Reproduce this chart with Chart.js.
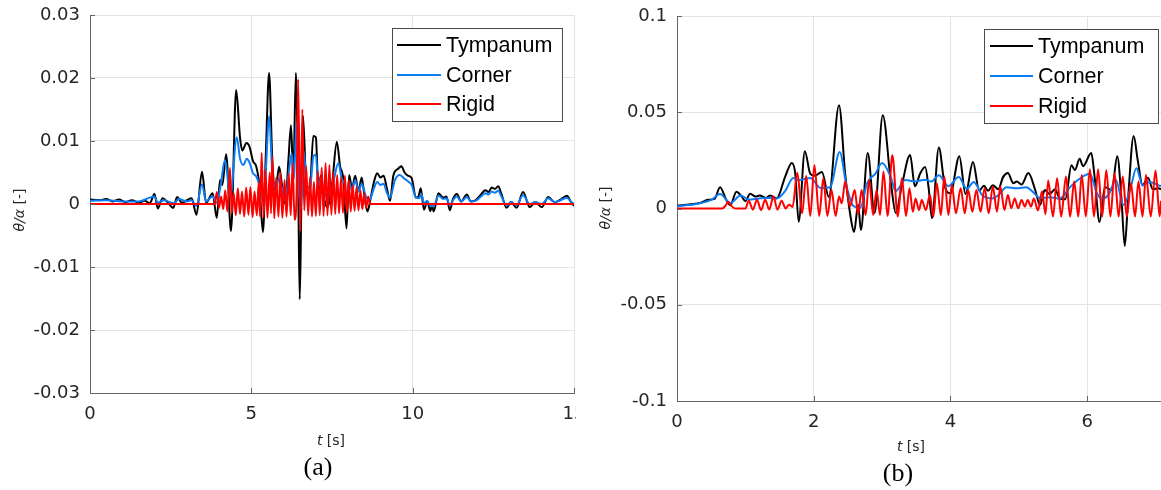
<!DOCTYPE html>
<html>
<head>
<meta charset="utf-8">
<script src="https://cdn.jsdelivr.net/npm/chart.js@4.4.1/dist/chart.umd.min.js"></script>
<style>
  html, body { margin: 0; padding: 0; background: #fff; }
  #wrap { position: relative; width: 1161px; height: 490px; overflow: hidden; }
  canvas { position: absolute; top: 0; }
</style>
</head>
<body>
<div id="wrap">
  <canvas id="chartA" width="576" height="490" style="left:0px"></canvas>
  <canvas id="chartB" width="581" height="490" style="left:580px"></canvas>
</div>
<script>
// ---- panel (a) data ----
const aTympT = [0,0.3,0.5,0.7,0.9,1.1,1.3,1.5,1.7,1.85,2.0,2.1,2.25,2.4,2.58,2.7,2.85,3.0,3.15,3.3,3.47,3.6,3.8,3.93,4.03,4.1,4.22,4.37,4.53,4.65,4.72,4.85,4.95,5.05,5.15,5.25,5.36,5.45,5.55,5.65,5.75,5.86,5.95,6.05,6.15,6.23,6.3,6.38,6.45,6.5,6.55,6.6,6.7,6.8,6.92,7.0,7.08,7.15,7.25,7.35,7.5,7.65,7.75,7.85,7.95,8.03,8.12,8.22,8.32,8.42,8.5,8.6,8.7,8.8,8.9,9.0,9.1,9.2,9.3,9.4,9.55,9.65,9.75,9.85,9.97,10.1,10.18,10.25,10.35,10.45,10.55,10.6,10.65,10.8,10.95,11.05,11.15,11.25,11.37,11.5,11.68,11.8,11.95,12.1,12.25,12.35,12.45,12.55,12.65,12.75,12.91,13.05,13.22,13.42,13.63,13.8,14.0,14.2,14.4,14.55,14.78,14.9,15.0];
const aTympY = [0.0007,0.0006,0.0008,0.0004,0.0007,0.0003,0.0006,0.0002,0.0005,0.0001,0.0016,-0.0007,0.0009,0.0003,-0.0006,0.0011,0.0002,0.0006,0.0009,-0.0017,0.0051,0.0002,0.0017,-0.0022,0.0038,0.0030,0.0079,-0.0043,0.0181,0.0105,0.0085,0.0097,0.0090,0.0068,0.0060,0.0030,-0.0045,0.0080,0.0208,0.0070,0.0020,0.0059,0.0030,0.0000,0.0070,0.0125,0.0040,0.0208,0.0040,-0.0151,0.0000,0.0140,0.0030,0.0010,0.0108,0.0106,0.0020,0.0045,0.0010,-0.0005,0.0030,0.0099,0.0060,0.0040,-0.0039,0.0046,0.0025,0.0045,0.0020,0.0042,0.0015,-0.0012,0.0010,0.0035,0.0049,0.0042,0.0045,0.0025,0.0005,0.0045,0.0056,0.0060,0.0050,0.0045,0.0041,0.0010,0.0012,0.0025,-0.0009,0.0004,-0.0011,-0.0002,-0.0012,0.0017,0.0010,0.0012,-0.0010,0.0008,0.0016,0.0004,0.0015,0.0004,0.0006,0.0014,0.0022,0.0019,0.0026,0.0024,0.0028,0.0016,-0.0006,0.0003,-0.0006,0.0019,-0.0005,0.0003,-0.0005,0.0011,0.0003,0.0006,0.0013,0.0004,-0.0003];

const aCornerT = [0,0.5,1.0,1.5,2.0,2.1,2.3,2.6,2.75,3.0,3.15,3.3,3.47,3.6,3.8,3.93,4.05,4.18,4.35,4.55,4.65,4.75,4.86,4.95,5.05,5.15,5.25,5.36,5.45,5.55,5.65,5.75,5.86,5.95,6.05,6.15,6.25,6.32,6.4,6.47,6.52,6.58,6.62,6.72,6.82,6.92,7.0,7.08,7.15,7.25,7.35,7.5,7.7,7.8,7.9,7.95,8.03,8.12,8.22,8.32,8.42,8.55,8.65,8.8,8.9,9.0,9.1,9.2,9.3,9.45,9.6,9.75,9.88,9.97,10.1,10.2,10.27,10.35,10.45,10.55,10.65,10.8,10.95,11.05,11.15,11.25,11.37,11.5,11.68,11.8,11.95,12.1,12.25,12.35,12.45,12.55,12.65,12.75,12.91,13.05,13.22,13.42,13.63,13.8,14.0,14.2,14.4,14.55,14.78,14.9,15.0];
const aCornerY = [0.0005,0.0006,0.0004,0.0004,0.0012,0.0002,0.0006,0.0001,0.0008,0.0004,0.0006,-0.0003,0.0031,0.0004,0.0012,0.0002,0.0030,0.0070,0.0012,0.0106,0.0072,0.0062,0.0072,0.0065,0.0049,0.0044,0.0030,0.0005,0.0055,0.0140,0.0050,0.0025,0.0040,0.0025,0.0005,0.0045,0.0080,0.0040,0.0130,0.0030,-0.0010,0.0030,0.0085,0.0030,0.0025,0.0075,0.0078,0.0027,0.0040,0.0020,0.0010,0.0025,0.0065,0.0040,0.0030,0.0005,0.0035,0.0022,0.0038,0.0020,0.0032,0.0012,0.0005,0.0025,0.0035,0.0030,0.0032,0.0018,0.0010,0.0038,0.0046,0.0040,0.0035,0.0030,0.0010,0.0009,0.0016,0.0001,0.0005,-0.0003,-0.0003,0.0013,0.0008,0.0009,-0.0002,0.0006,0.0012,0.0004,0.0011,0.0004,0.0005,0.0011,0.0017,0.0015,0.0020,0.0018,0.0021,0.0012,-0.0002,0.0003,-0.0002,0.0014,0.0000,0.0003,0.0000,0.0009,0.0003,0.0005,0.0010,0.0004,0.0000];

const aRigidT = [0,3.87,3.93,4.00,4.06,4.13,4.19,4.26,4.34,4.39,4.45,4.52,4.58,4.65,4.71,4.78,4.84,4.91,4.97,5.04,5.10,5.17,5.23,5.27,5.32,5.38,5.44,5.50,5.57,5.61,5.65,5.71,5.77,5.84,5.90,5.96,6.03,6.09,6.16,6.22,6.28,6.34,6.40,6.45,6.52,6.58,6.64,6.70,6.76,6.82,6.88,6.94,7.00,7.06,7.12,7.18,7.24,7.30,7.36,7.42,7.48,7.54,7.60,7.66,7.72,7.78,7.84,7.90,7.96,8.02,8.08,8.14,8.20,8.26,8.32,8.38,8.44,8.50,8.56,8.62,8.68,15];
const aRigidY = [0,0,0.0019,-0.0006,0.0012,-0.0008,0.0022,-0.0012,0.0057,-0.0015,0.0018,-0.0018,0.0025,-0.0016,0.0020,-0.0020,0.0026,-0.0017,0.0027,-0.0021,0.0020,-0.0018,0.0035,-0.0020,0.0081,-0.0021,0.0054,-0.0022,0.0050,-0.0015,0.0075,-0.0023,0.0042,-0.0020,0.0050,-0.0022,0.0038,-0.0020,0.0048,-0.0018,0.0065,-0.0025,0.0010,0.0198,-0.0043,0.0150,-0.0010,0.0060,-0.0018,0.0043,-0.0020,0.0035,-0.0019,0.0052,-0.0018,0.0058,-0.0019,0.0065,-0.0018,0.0062,-0.0017,0.0050,-0.0016,0.0046,-0.0015,0.0042,-0.0014,0.0045,-0.0013,0.0038,-0.0012,0.0030,-0.0011,0.0027,-0.0010,0.0022,-0.0008,0.0017,-0.0006,0.0012,0,0];

const aXTicks = [0, 5, 10, 15];
const aXLabels = ['0', '5', '10', '15'];
const aYTicks = [-0.03, -0.02, -0.01, 0, 0.01, 0.02, 0.03];
const aYLabels = ['-0.03', '-0.02', '-0.01', '0', '0.01', '0.02', '0.03'];

// ---- panel (b) data ----
const bTympT = [0,0.2,0.35,0.45,0.55,0.63,0.72,0.78,0.87,0.95,1.0,1.07,1.15,1.21,1.3,1.36,1.46,1.58,1.68,1.73,1.78,1.87,1.95,2.02,2.12,2.22,2.37,2.46,2.54,2.59,2.65,2.69,2.79,2.89,3.01,3.13,3.2,3.29,3.41,3.48,3.56,3.63,3.68,3.73,3.83,3.92,4.0,4.13,4.22,4.33,4.42,4.49,4.55,4.62,4.7,4.77,4.84,4.92,4.97,5.04,5.14,5.24,5.31,5.38,5.45,5.53,5.6,5.68,5.77,5.82,5.89,5.94,6.06,6.11,6.18,6.26,6.36,6.44,6.5,6.55,6.6,6.68,6.74,6.81,6.89,6.96,7.04,7.08];
const bTympY = [0.0015,0.0022,0.0030,0.0045,0.0050,0.0110,0.0045,0.0018,0.0087,0.0060,0.0038,0.0077,0.0062,0.0068,0.0055,0.0068,0.0053,0.0163,0.0237,0.0180,-0.0069,0.0297,0.0180,0.0170,0.0190,0.0060,0.0537,0.0180,-0.0045,-0.0122,0.0020,-0.0112,0.0288,-0.0023,0.0484,0.0131,-0.0023,0.0121,0.0278,0.0116,0.0184,0.0215,0.0110,-0.0050,0.0317,0.0111,0.0079,0.0272,0.0075,0.0241,0.0092,0.0118,0.0092,0.0121,0.0100,0.0163,0.0184,0.0131,0.0140,0.0125,0.0184,0.0096,0.0018,0.0096,0.0075,0.0100,0.0052,0.0048,0.0225,0.0200,0.0258,0.0220,0.0288,0.0160,-0.0070,0.0110,0.0096,0.0272,0.0060,-0.0195,0.0060,0.0376,0.0250,0.0121,0.0160,0.0100,0.0105,0.0100];

const bCornerT = [0,0.3,0.5,0.63,0.78,0.93,1.05,1.2,1.35,1.46,1.58,1.7,1.78,1.95,2.1,2.24,2.38,2.48,2.58,2.68,2.78,2.9,3.0,3.13,3.2,3.34,3.48,3.63,3.72,3.83,3.97,4.12,4.24,4.34,4.47,4.61,4.71,4.82,4.97,5.11,5.21,5.31,5.45,5.6,5.75,5.9,6.04,6.14,6.21,6.31,6.42,6.53,6.63,6.72,6.81,6.91,7.08];
const bCornerY = [0.0012,0.0025,0.0045,0.0075,0.0028,0.0067,0.0047,0.0052,0.0055,0.0052,0.0090,0.0158,0.0148,0.0158,0.0107,0.0110,0.0293,0.0117,0.0013,0.0003,0.0131,0.0180,0.0236,0.0160,0.0090,0.0148,0.0140,0.0150,0.0140,0.0173,0.0116,0.0163,0.0102,0.0138,0.0067,0.0052,0.0072,0.0111,0.0105,0.0111,0.0085,0.0054,0.0058,0.0052,0.0111,0.0157,0.0180,0.0082,0.0052,0.0070,0.0148,0.0018,0.0100,0.0209,0.0120,0.0138,0.0115];

const bRigidT = [0,0.66,0.71,0.75,0.80,0.85,1.00,1.05,1.11,1.17,1.23,1.29,1.35,1.41,1.47,1.53,1.59,1.64,1.69,1.76,1.83,1.89,1.95,2.01,2.08,2.14,2.20,2.26,2.32,2.37,2.41,2.46,2.53,2.60,2.65,2.70,2.76,2.81,2.87,2.92,2.97,3.02,3.08,3.15,3.23,3.29,3.35,3.40,3.45,3.49,3.54,3.58,3.64,3.70,3.75,3.80,3.86,3.91,3.97,4.02,4.08,4.15,4.21,4.26,4.32,4.38,4.44,4.50,4.56,4.62,4.68,4.73,4.79,4.84,4.89,4.94,4.99,5.04,5.09,5.13,5.18,5.22,5.28,5.34,5.39,5.43,5.50,5.56,5.62,5.69,5.75,5.81,5.87,5.92,5.98,6.04,6.10,6.16,6.22,6.28,6.34,6.40,6.46,6.52,6.58,6.64,6.70,6.75,6.81,6.86,6.93,7.00,7.06,7.08];
const bRigidY = [0,0,0.0015,0.0035,0.0012,0,0,0.0040,-0.0006,0.0045,-0.0008,0.0045,-0.0005,0.0062,-0.0006,0.0040,0.0000,0.0020,0.0008,0.0186,-0.0025,0.0169,-0.0039,0.0226,-0.0039,0.0157,-0.0039,0.0096,-0.0039,0.0062,0.0027,0.0140,0.0010,0.0096,-0.0030,0.0096,-0.0034,0.0148,-0.0034,0.0096,-0.0034,0.0192,-0.0039,0.0278,-0.0042,0.0157,-0.0039,0.0105,-0.0017,0.0052,-0.0008,0.0044,-0.0008,0.0070,-0.0042,0.0131,-0.0034,0.0166,-0.0034,0.0122,-0.0025,0.0105,-0.0025,0.0096,-0.0017,0.0096,-0.0017,0.0105,-0.0025,0.0114,-0.0017,0.0114,-0.0008,0.0070,0.0001,0.0052,0.0001,0.0044,0.0010,0.0044,0.0010,0.0052,-0.0010,0.0090,-0.0030,0.0145,-0.0042,0.0157,-0.0042,0.0166,-0.0042,0.0140,-0.0042,0.0174,-0.0042,0.0204,-0.0042,0.0204,-0.0042,0.0200,-0.0042,0.0183,-0.0042,0.0166,-0.0042,0.0131,-0.0042,0.0140,-0.0042,0.0174,-0.0042,0.0197,-0.0040,0.0040];

const bXTicks = [0, 2, 4, 6];
const bXLabels = ['0', '2', '4', '6'];
const bYTicks = [-0.1, -0.05, 0, 0.05, 0.1];
const bYLabels = ['-0.1', '-0.05', '0', '0.05', '0.1'];

const seriesNames = ['Tympanum', 'Corner', 'Rigid'];
const seriesColors = ['#000000', '#0a7df5', '#ff0000'];

// ---- styling ----
const axisColor = '#666666';
const gridColor = '#e4e4e4';
const textColor = '#262626';

function toPoints(ts, ys) {
  const n = Math.min(ts.length, ys.length);
  const pts = [];
  for (let i = 0; i < n; i++) pts.push({ x: ts[i], y: ys[i] });
  return pts;
}

// draw text made of several font runs, centred on (cx, cy)
function drawRuns(ctx, runs, cx, cy, rotate) {
  ctx.save();
  ctx.translate(cx, cy);
  if (rotate) ctx.rotate(-Math.PI / 2);
  let total = 0;
  runs.forEach(r => { ctx.font = r.font; r.w = ctx.measureText(r.text).width; total += r.w; });
  let x = -total / 2;
  ctx.textBaseline = 'middle';
  ctx.textAlign = 'left';
  runs.forEach(r => { ctx.font = r.font; ctx.fillText(r.text, x, 0); x += r.w; });
  ctx.restore();
}

const panelDecor = {
  id: 'panelDecor',
  afterDraw(chart, args, o) {
    const ctx = chart.ctx;
    const { left, bottom } = chart.chartArea;
    const xs = chart.scales.x, ys = chart.scales.y;
    ctx.save();

    // tick marks point into the plot
    ctx.strokeStyle = axisColor;
    ctx.lineWidth = 1;
    ctx.beginPath();
    xs.ticks.forEach(t => {
      const px = Math.round(xs.getPixelForValue(t.value)) + 0.5;
      ctx.moveTo(px, bottom); ctx.lineTo(px, bottom - 5);
    });
    ys.ticks.forEach(t => {
      const py = Math.round(ys.getPixelForValue(t.value)) + 0.5;
      ctx.moveTo(left, py); ctx.lineTo(left + 5, py);
    });
    ctx.stroke();

    // legend box inside the plot
    const lg = o.legend;
    ctx.fillStyle = '#ffffff';
    ctx.fillRect(lg.x1, lg.y1, lg.x2 - lg.x1, lg.y2 - lg.y1);
    ctx.strokeStyle = '#4a4a4a';
    ctx.lineWidth = 1;
    ctx.strokeRect(lg.x1 + 0.5, lg.y1 + 0.5, lg.x2 - lg.x1, lg.y2 - lg.y1);
    chart.data.datasets.forEach((ds, i) => {
      const y = lg.rowY[i];
      ctx.strokeStyle = ds.borderColor;
      ctx.lineWidth = 2;
      ctx.beginPath();
      ctx.moveTo(lg.lx1, y); ctx.lineTo(lg.lx2, y);
      ctx.stroke();
      ctx.fillStyle = '#000000';
      ctx.font = '21.5px "Liberation Sans", Arial, sans-serif';
      ctx.textBaseline = 'middle';
      ctx.textAlign = 'left';
      ctx.fillText(ds.label, lg.tx, y + 1);
    });

    // axis titles and caption
    ctx.fillStyle = textColor;
    drawRuns(ctx, [
      { text: 'θ/α', font: 'italic 14px "DejaVu Sans"' },
      { text: ' [-]', font: '14px "DejaVu Sans"' }
    ], o.yTitle[0], o.yTitle[1], true);
    drawRuns(ctx, [
      { text: 't', font: 'italic 14px "DejaVu Sans"' },
      { text: ' [s]', font: '14px "DejaVu Sans"' }
    ], o.xTitle[0], o.xTitle[1], false);
    ctx.fillStyle = '#000000';
    drawRuns(ctx, [{ text: o.caption, font: '26px "Liberation Serif", "Times New Roman", serif' }],
      o.capPos[0], o.capPos[1], false);

    ctx.restore();
  }
};

function makePanel(id, p) {
  const datasets = p.series.map((s, i) => ({
    label: seriesNames[i],
    data: toPoints(s[0], s[1]),
    borderColor: seriesColors[i],
    borderWidth: 2,
    pointRadius: 0,
    fill: false,
    cubicInterpolationMode: 'monotone',
    order: 3 - i
  }));
  const tickFont = { family: 'DejaVu Sans', size: 18 };
  return new Chart(document.getElementById(id), {
    type: 'line',
    data: { datasets },
    plugins: [panelDecor],
    options: {
      responsive: false,
      animation: false,
      devicePixelRatio: 1,
      layout: { padding: { left: 0, top: p.top, right: p.right, bottom: 0 } },
      plugins: {
        legend: { display: false },
        tooltip: { enabled: false },
        panelDecor: p.decor
      },
      scales: {
        x: {
          type: 'linear',
          min: p.xMin, max: p.xMax,
          afterBuildTicks: s => { s.ticks = p.xTicks.map(v => ({ value: v })); },
          afterFit: s => { s.height = p.xHeight; s.paddingLeft = 0; s.paddingRight = 0; },
          grid: { color: gridColor, drawTicks: false },
          border: { display: true, color: axisColor, width: 1 },
          ticks: {
            padding: 11, color: textColor, font: tickFont,
            maxRotation: 0, autoSkip: false,
            callback: (v, i) => p.xLabels[i]
          }
        },
        y: {
          type: 'linear',
          min: p.yMin, max: p.yMax,
          afterBuildTicks: s => { s.ticks = p.yTicks.map(v => ({ value: v })); },
          afterFit: s => { s.width = p.yWidth; s.paddingTop = 0; s.paddingBottom = 0; },
          grid: { color: gridColor, drawTicks: false },
          border: { display: true, color: axisColor, width: 1 },
          ticks: {
            padding: 10, color: textColor, font: tickFont,
            autoSkip: false,
            callback: (v, i) => p.yLabels[i]
          }
        }
      }
    }
  });
}

makePanel('chartA', {
  series: [[aTympT, aTympY], [aCornerT, aCornerY], [aRigidT, aRigidY]],
  xMin: 0, xMax: 15, yMin: -0.03, yMax: 0.03,
  xTicks: aXTicks, xLabels: aXLabels, yTicks: aYTicks, yLabels: aYLabels,
  top: 15, right: 2, yWidth: 90, xHeight: 97,
  decor: {
    legend: { x1: 392, y1: 28, x2: 562, y2: 121, lx1: 397, lx2: 441, tx: 446, rowY: [45, 75, 104] },
    yTitle: [20, 210], xTitle: [331, 441], caption: '(a)', capPos: [318, 468]
  }
});

makePanel('chartB', {
  series: [[bTympT, bTympY], [bCornerT, bCornerY], [bRigidT, bRigidY]],
  xMin: 0, xMax: 7.08, yMin: -0.1, yMax: 0.1,
  xTicks: bXTicks, xLabels: bXLabels, yTicks: bYTicks, yLabels: bYLabels,
  top: 16, right: 0, yWidth: 97, xHeight: 89,
  decor: {
    legend: { x1: 404, y1: 29, x2: 578, y2: 123, lx1: 410, lx2: 453, tx: 458, rowY: [46, 76, 106] },
    yTitle: [26, 208], xTitle: [331, 447], caption: '(b)', capPos: [318, 474]
  }
});
</script>
</body>
</html>
